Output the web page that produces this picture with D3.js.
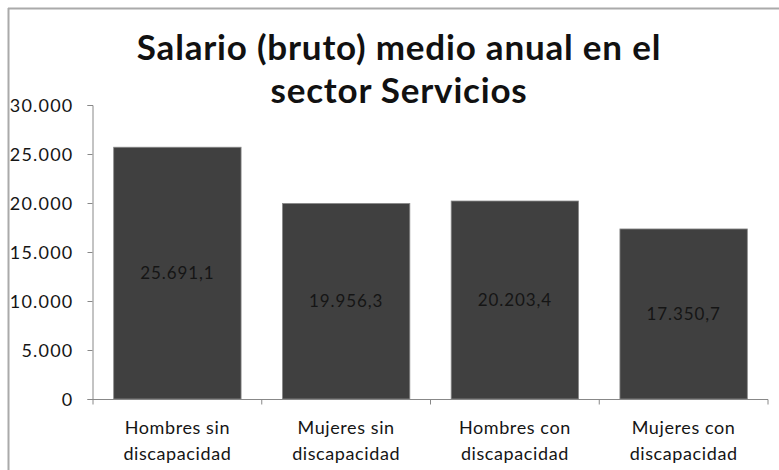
<!DOCTYPE html>
<html><head><meta charset="utf-8">
<script src="https://cdn.jsdelivr.net/npm/d3@7"></script>
<style>body{margin:0;background:#fff}svg{display:block}</style>
</head><body>
<svg id="c" width="779" height="470"></svg>
<script>
const categories = [["Hombres sin","discapacidad"],["Mujeres sin","discapacidad"],["Hombres con","discapacidad"],["Mujeres con","discapacidad"]];
const values = [25691.1, 19956.3, 20203.4, 17350.7];
const valueLabels = ["25.691,1","19.956,3","20.203,4","17.350,7"];
const yTicks = [0,5000,10000,15000,20000,25000,30000];
const yTickLabels = ["0","5.000","10.000","15.000","20.000","25.000","30.000"];
const titleLines = ["Salario (bruto) medio anual en el","sector Servicios"];

const svg = d3.select("#c");
const font = "Lato, 'Open Sans', sans-serif";
// frame
svg.append("line").attr("x1",8).attr("x2",779).attr("y1",8.5).attr("y2",8.5).attr("stroke","#aaa").attr("stroke-width",2);
svg.append("line").attr("x1",8.5).attr("x2",8.5).attr("y1",8).attr("y2",470).attr("stroke","#aaa").attr("stroke-width",2);

const x = d3.scaleBand().domain(d3.range(categories.length)).range([93,768]).paddingInner(0.245).paddingOuter(0.1225);
const y = d3.scaleLinear().domain([0,30000]).range([399,105]);

const g = svg.append("g");
g.selectAll("rect.bar").data(values).join("rect").attr("class","bar")
  .attr("x",(d,i)=>x(i)).attr("width",x.bandwidth())
  .attr("y",d=>y(d)).attr("height",d=>y(0)-y(d))
  .attr("fill","#404040").attr("stroke","#8a8a8a").attr("stroke-width",0.8);

g.selectAll("text.vl").data(values).join("text").attr("class","vl")
  .attr("x",(d,i)=>x(i)+x.bandwidth()/2).attr("y",d=>(y(d)+y(0))/2+6)
  .attr("text-anchor","middle").attr("font-family",font).attr("font-size",17)
  .attr("letter-spacing",0.9).attr("fill","#151515").text((d,i)=>valueLabels[i]);

// y axis
const yAxis = d3.axisLeft(y).tickValues(yTicks).tickFormat((d,i)=>yTickLabels[i]).tickSize(5).tickSizeOuter(5);
const ya = svg.append("g").attr("transform","translate(92.5,0)").call(yAxis);
ya.select(".domain").attr("stroke","#888");
ya.selectAll(".tick line").attr("stroke","#888");
ya.selectAll(".tick text").attr("font-family",font).attr("font-size",18).attr("letter-spacing",1.2)
  .attr("fill","#151515").attr("x",-19).attr("dy","0.36em");

// x axis
const xb = d3.scaleLinear().domain([0,4]).range([93,768]);
const xa = svg.append("g").attr("transform","translate(0,399.5)");
xa.append("line").attr("x1",93).attr("x2",768).attr("stroke","#888");
xa.selectAll("line.t").data(d3.range(5)).join("line").attr("class","t")
  .attr("x1",d=>xb(d)).attr("x2",d=>xb(d)).attr("y1",0).attr("y2",5).attr("stroke","#888");
const cl = svg.selectAll("text.cat").data(categories).join("text").attr("class","cat")
  .attr("text-anchor","middle").attr("font-family",font).attr("font-size",18).attr("letter-spacing",0.6).attr("fill","#151515");
cl.each(function(d,i){
  const t = d3.select(this);
  d.forEach((s,j)=>t.append("tspan").attr("x",x(i)+x.bandwidth()/2).attr("y",434+j*26).text(s));
});

// title
svg.selectAll("text.title").data(titleLines).join("text").attr("class","title")
  .attr("x",399).attr("y",(d,i)=>60+i*43).attr("text-anchor","middle")
  .attr("font-family",font).attr("font-weight","bold").attr("font-size",35).attr("letter-spacing",0.8)
  .attr("fill","#111").text(d=>d);
</script>
</body></html>
